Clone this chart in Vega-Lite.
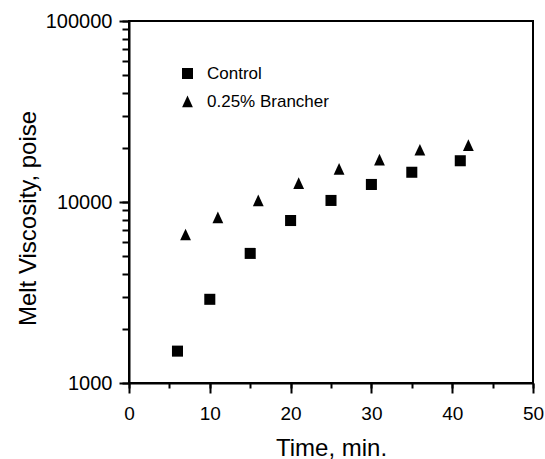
{
  "$schema": "https://vega.github.io/schema/vega-lite/v6.json",
  "width": 404,
  "height": 362,
  "autosize": "none",
  "padding": {"left": 129, "top": 21, "right": 12, "bottom": 76},
  "background": "white",
  "config": {
    "view": {"stroke": "black", "strokeWidth": 2},
    "font": "Liberation Sans"
  },
  "data": {
    "values": [
      {"series": "Control", "time": 6, "viscosity": 1500},
      {"series": "Control", "time": 10, "viscosity": 2900},
      {"series": "Control", "time": 15, "viscosity": 5200},
      {"series": "Control", "time": 20, "viscosity": 7900},
      {"series": "Control", "time": 25, "viscosity": 10200},
      {"series": "Control", "time": 30, "viscosity": 12500},
      {"series": "Control", "time": 35, "viscosity": 14600},
      {"series": "Control", "time": 41, "viscosity": 16900},
      {"series": "0.25% Brancher", "time": 7, "viscosity": 6600},
      {"series": "0.25% Brancher", "time": 11, "viscosity": 8200},
      {"series": "0.25% Brancher", "time": 16, "viscosity": 10200},
      {"series": "0.25% Brancher", "time": 21, "viscosity": 12700},
      {"series": "0.25% Brancher", "time": 26, "viscosity": 15200},
      {"series": "0.25% Brancher", "time": 31, "viscosity": 17100},
      {"series": "0.25% Brancher", "time": 36, "viscosity": 19400},
      {"series": "0.25% Brancher", "time": 42, "viscosity": 20600}
    ]
  },
  "layer": [
    {
      "mark": {"type": "point", "filled": true, "opacity": 0},
      "encoding": {
        "x": {
          "field": "time",
          "type": "quantitative",
          "scale": {"domain": [0, 50], "nice": false, "zero": false},
          "axis": {
            "orient": "bottom",
            "values": [0, 5, 10, 15, 20, 25, 30, 35, 40, 45, 50],
            "labels": false,
            "domain": false,
            "grid": false,
            "title": null,
            "ticks": true,
            "tickSize": 5,
            "tickWidth": 2,
            "tickColor": "black"
          }
        },
        "y": {
          "field": "viscosity",
          "type": "quantitative",
          "scale": {"type": "log", "domain": [1000, 100000], "nice": false},
          "axis": {
            "orient": "left",
            "values": [1000, 2000, 3000, 4000, 5000, 6000, 7000, 8000, 9000, 10000, 20000, 30000, 40000, 50000, 60000, 70000, 80000, 90000, 100000],
            "labels": false,
            "domain": false,
            "grid": false,
            "title": null,
            "ticks": true,
            "tickSize": 7,
            "tickWidth": 2,
            "tickColor": "black"
          }
        }
      }
    },
    {
      "mark": {"type": "point", "filled": true, "opacity": 1, "color": "black"},
      "encoding": {
        "x": {
          "field": "time",
          "type": "quantitative",
          "scale": {"domain": [0, 50], "nice": false, "zero": false},
          "axis": {
            "orient": "bottom",
            "values": [0, 10, 20, 30, 40, 50],
            "tickSize": 10,
            "tickWidth": 2,
            "tickColor": "black",
            "domainColor": "black",
            "domainWidth": 2,
            "grid": false,
            "labelFontSize": 19,
            "labelColor": "black",
            "labelPadding": 11,
            "labelFlush": false,
            "labelOverlap": false,
            "title": "Time, min.",
            "titleFontSize": 24,
            "titleFontWeight": "normal",
            "titleColor": "black",
            "titlePadding": 13
          }
        },
        "y": {
          "field": "viscosity",
          "type": "quantitative",
          "scale": {"type": "log", "domain": [1000, 100000], "nice": false},
          "axis": {
            "orient": "left",
            "values": [1000, 10000, 100000],
            "format": "d",
            "tickSize": 10,
            "tickWidth": 2,
            "tickColor": "black",
            "domainColor": "black",
            "domainWidth": 2,
            "grid": false,
            "labelFontSize": 20,
            "labelColor": "black",
            "labelPadding": 7,
            "labelFlush": false,
            "labelOverlap": false,
            "title": "Melt Viscosity, poise",
            "titleFontSize": 24,
            "titleFontWeight": "normal",
            "titleColor": "black",
            "titleBaseline": "alphabetic",
            "titleX": -94,
            "titleY": 197
          }
        },
        "shape": {
          "field": "series",
          "type": "nominal",
          "scale": {
            "domain": ["Control", "0.25% Brancher"],
            "range": ["M-0.92,-0.92L0.92,-0.92L0.92,0.92L-0.92,0.92Z", "M-0.9,0.95L0.9,0.95L0,-1Z"]
          },
          "legend": {
            "title": null,
            "orient": "none",
            "legendX": 50,
            "legendY": 44,
            "padding": 0,
            "labelFontSize": 17,
            "labelColor": "black",
            "labelOffset": 11,
            "rowPadding": 10,
            "symbolSize": 144,
            "symbolFillColor": "black",
            "symbolStrokeColor": "black",
            "symbolStrokeWidth": 0
          }
        },
        "size": {"value": 144}
      }
    }
  ],
  "resolve": {"axis": {"x": "independent", "y": "independent"}}
}
